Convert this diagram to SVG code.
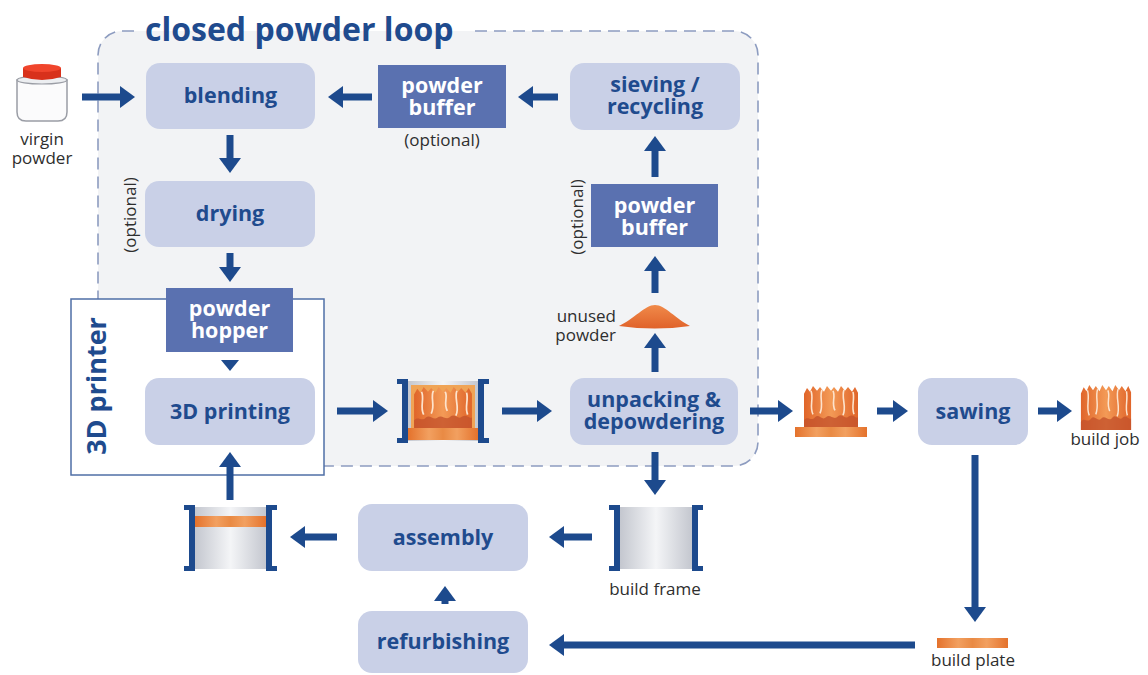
<svg xmlns="http://www.w3.org/2000/svg" width="1148" height="675" viewBox="0 0 1148 675">
  <defs>
    <style>
      .node rect { fill: #c9d0e7; }
      .node text { fill: #1f4b8e; }
      .dark rect { fill: #5a71b0; }
      .dark text { fill: #ffffff; }
      .node text, .dark text { font-family: "Open Sans", "Liberation Sans", sans-serif; font-weight: 700; font-size: 21.5px; text-anchor: middle; }
      .lbl { font-family: "Open Sans", "Liberation Sans", sans-serif; font-size: 17px; fill: #2e2e2e; }
      .title { font-family: "Open Sans", "Liberation Sans", sans-serif; font-weight: 700; fill: #1f4b8e; }
      .arr { stroke: #1d4a8d; stroke-width: 7; fill: none; marker-end: url(#ah); }
      .brk { fill: #1d4a8d; }
      .loopline { fill: none; stroke: #8d9cc0; stroke-width: 1.6; stroke-dasharray: 12 7; }
    </style>
    <marker id="ah" markerUnits="userSpaceOnUse" markerWidth="16" markerHeight="22" refX="1" refY="11" orient="auto" viewBox="0 0 16 22">
      <path d="M0,0 L15,11 L0,22 Z" fill="#1d4a8d"/>
    </marker>
    <linearGradient id="cyl" x1="0" y1="0" x2="1" y2="0">
      <stop offset="0" stop-color="#c4c7cf"/>
      <stop offset="0.5" stop-color="#f4f5f7"/>
      <stop offset="1" stop-color="#c4c7cf"/>
    </linearGradient>
    <linearGradient id="org" x1="0" y1="0" x2="1" y2="0">
      <stop offset="0" stop-color="#e0652a"/>
      <stop offset="0.5" stop-color="#f39a56"/>
      <stop offset="1" stop-color="#e0652a"/>
    </linearGradient>
    <linearGradient id="plate" x1="0" y1="0" x2="1" y2="0">
      <stop offset="0" stop-color="#e4722c"/>
      <stop offset="0.3" stop-color="#f2a060"/>
      <stop offset="0.5" stop-color="#e98a44"/>
      <stop offset="0.7" stop-color="#f2a060"/>
      <stop offset="1" stop-color="#e4722c"/>
    </linearGradient>
    <linearGradient id="pile" x1="0" y1="0" x2="0" y2="1">
      <stop offset="0" stop-color="#f08a4a"/>
      <stop offset="1" stop-color="#e0622a"/>
    </linearGradient>
    <!-- printed parts on the build plate -->
    <symbol id="parts" viewBox="0 0 56 44" preserveAspectRatio="none">
      <path d="M1,44 V9 L4,3 L7,7 L10,1 L14,6 L17,2 L21,7 L24,1 L28,6 L31,2 L35,7 L38,1 L42,6 L45,2 L49,7 L52,2 L55,8 V44 Z" fill="url(#org)"/>
      <path d="M8,6 C11,14 6,22 10,30 M19,5 C16,13 21,20 17,29 M30,6 C33,12 28,18 32,26 M41,5 C38,13 44,22 40,31 M50,7 C52,15 48,22 51,30" stroke="#fde3cc" stroke-width="1.6" fill="none"/>
      <path d="M1,44 V36 C5,31 8,38 12,33 C16,29 19,37 23,33 C27,29 31,37 35,32 C39,28 42,36 46,32 C50,29 53,35 55,33 V44 Z" fill="#c4532c" opacity="0.8"/>
    </symbol>
  </defs>

  <rect width="1148" height="675" fill="#ffffff"/>

  <!-- closed powder loop area -->
  <g id="loop">
    <rect x="98" y="31" width="660" height="435" rx="24" fill="#f2f3f5"/>
    <path class="loopline" d="M475,31 H734 A24,24 0 0 1 758,55 V442 A24,24 0 0 1 734,466 H324"/>
    <path class="loopline" d="M134,31 H122 A24,24 0 0 0 98,55 V299"/>
    <text class="title" x="145" y="41" font-size="32">closed powder loop</text>
  </g>

  <!-- 3D printer housing -->
  <g id="printer">
    <rect x="71" y="299" width="253" height="176" fill="#ffffff" stroke="#4f6fa6" stroke-width="1.5"/>
    <text class="title" font-size="27" transform="translate(106,386) rotate(-90)" text-anchor="middle">3D printer</text>
  </g>

  <!-- process steps -->
  <g id="blending" class="node">
    <rect x="146" y="63" width="169" height="66" rx="14"/>
    <text x="230.5" y="103">blending</text>
  </g>
  <g id="powder-buffer-top" class="dark">
    <rect x="378" y="65" width="128" height="63"/>
    <text x="442" y="93">powder<tspan x="442" dy="22">buffer</tspan></text>
  </g>
  <g id="sieving" class="node">
    <rect x="570" y="63" width="170" height="67" rx="14"/>
    <text x="655" y="92">sieving /<tspan x="655" dy="22">recycling</tspan></text>
  </g>
  <g id="drying" class="node">
    <rect x="145" y="181" width="170" height="66" rx="14"/>
    <text x="230" y="221">drying</text>
  </g>
  <g id="powder-hopper" class="dark">
    <rect x="166" y="288" width="127" height="64"/>
    <text x="229.5" y="316">powder<tspan x="229.5" dy="22">hopper</tspan></text>
  </g>
  <g id="printing" class="node">
    <rect x="145" y="378" width="170" height="67" rx="14"/>
    <text x="230" y="419">3D printing</text>
  </g>
  <g id="powder-buffer-right" class="dark">
    <rect x="591" y="184" width="127" height="63"/>
    <text x="654.5" y="213">powder<tspan x="654.5" dy="22">buffer</tspan></text>
  </g>
  <g id="unpacking" class="node">
    <rect x="570" y="378" width="168" height="67" rx="14"/>
    <text x="654" y="407">unpacking &amp;<tspan x="654" dy="22">depowdering</tspan></text>
  </g>
  <g id="sawing" class="node">
    <rect x="918" y="378" width="110" height="67" rx="14"/>
    <text x="973" y="419">sawing</text>
  </g>
  <g id="assembly" class="node">
    <rect x="358" y="504" width="170" height="67" rx="14"/>
    <text x="443" y="545">assembly</text>
  </g>
  <g id="refurbishing" class="node">
    <rect x="358" y="611" width="170" height="62" rx="14"/>
    <text x="443" y="649">refurbishing</text>
  </g>

  <!-- optional notes -->
  <g id="notes">
    <text class="lbl" x="442" y="146" text-anchor="middle">(optional)</text>
    <text class="lbl" transform="translate(136,215) rotate(-90)" text-anchor="middle">(optional)</text>
    <text class="lbl" transform="translate(583,217) rotate(-90)" text-anchor="middle">(optional)</text>
  </g>

  <!-- virgin powder jar -->
  <g id="virgin-powder">
    <path d="M17,80 V112 Q17,121 26,121 H58 Q67,121 67,112 V80 Z" fill="#fbfbfc" stroke="#9a9da5" stroke-width="1.5"/>
    <ellipse cx="42" cy="80" rx="25" ry="4" fill="#eceef1" stroke="#9a9da5" stroke-width="1.2"/>
    <path d="M23,68 V77 Q42,83 61,77 V68 Z" fill="#d8311b"/>
    <ellipse cx="42" cy="68" rx="19" ry="4" fill="#f0452c"/>
    <text class="lbl" x="42" y="145" text-anchor="middle">virgin<tspan x="42" dy="19">powder</tspan></text>
  </g>

  <!-- build frame with finished build job -->
  <g id="full-frame">
    <rect x="408" y="381" width="70" height="60" fill="url(#cyl)"/>
    <rect x="411" y="385" width="64" height="44" fill="#f0a456"/>
    <use href="#parts" x="413" y="386" width="60" height="42"/>
    <rect x="408" y="428" width="70" height="12" fill="url(#plate)"/>
    <path class="brk" d="M397,379 H408 V443 H397 V438 H402 V384 H397 Z"/>
    <path class="brk" d="M489,379 H478 V443 H489 V438 H484 V384 H489 Z"/>
  </g>

  <!-- unused powder pile -->
  <g id="unused-powder">
    <path d="M619,326 C634,319 645,305 655,305 C665,305 676,319 690,326 Q655,331 619,326 Z" fill="url(#pile)"/>
    <text class="lbl" x="616" y="322" text-anchor="end">unused<tspan x="616" dy="19">powder</tspan></text>
  </g>

  <!-- build job on build plate -->
  <g id="job-on-plate">
    <use href="#parts" x="803" y="385" width="56" height="43"/>
    <rect x="795" y="427" width="72" height="10" fill="url(#plate)"/>
  </g>

  <!-- separated build job -->
  <g id="build-job">
    <use href="#parts" x="1080" y="384" width="52" height="46"/>
    <text class="lbl" x="1105" y="445" text-anchor="middle">build job</text>
  </g>

  <!-- empty build frame -->
  <g id="build-frame">
    <rect x="620" y="507" width="72" height="62" fill="url(#cyl)"/>
    <path class="brk" d="M609,505 H620 V571 H609 V566 H614 V510 H609 Z"/>
    <path class="brk" d="M703,505 H692 V571 H703 V566 H698 V510 H703 Z"/>
    <text class="lbl" x="655" y="595" text-anchor="middle">build frame</text>
  </g>

  <!-- assembled frame with new plate -->
  <g id="assembled-frame">
    <rect x="195" y="507" width="71" height="62" fill="url(#cyl)"/>
    <rect x="195" y="516" width="71" height="11" fill="url(#plate)"/>
    <path class="brk" d="M184,505 H195 V571 H184 V566 H189 V510 H184 Z"/>
    <path class="brk" d="M277,505 H266 V571 H277 V566 H272 V510 H277 Z"/>
  </g>

  <!-- build plate -->
  <g id="build-plate">
    <rect x="937" y="638" width="71" height="10" fill="url(#plate)"/>
    <text class="lbl" x="973" y="666" text-anchor="middle">build plate</text>
  </g>

  <!-- connectors -->
  <g id="connectors">
    <line class="arr" x1="82" y1="97" x2="121" y2="97"/>
    <line class="arr" x1="372" y1="97" x2="342" y2="97"/>
    <line class="arr" x1="558" y1="97" x2="532" y2="97"/>
    <line class="arr" x1="230" y1="135" x2="230" y2="159"/>
    <line class="arr" x1="230" y1="253" x2="230" y2="268"/>
    <polygon points="221,360 239,360 230,371" fill="#1d4a8d"/>
    <line class="arr" x1="230" y1="500" x2="230" y2="466"/>
    <line class="arr" x1="337" y1="411" x2="374" y2="411"/>
    <line class="arr" x1="502" y1="411" x2="538" y2="411"/>
    <line class="arr" x1="655" y1="372" x2="655" y2="347"/>
    <line class="arr" x1="655" y1="293" x2="655" y2="270"/>
    <line class="arr" x1="655" y1="177" x2="655" y2="150"/>
    <line class="arr" x1="750" y1="411" x2="779" y2="411"/>
    <line class="arr" x1="877" y1="411" x2="894" y2="411"/>
    <line class="arr" x1="1038" y1="411" x2="1058" y2="411"/>
    <line class="arr" x1="655" y1="452" x2="655" y2="481"/>
    <line class="arr" x1="592" y1="537" x2="563" y2="537"/>
    <line class="arr" x1="337" y1="537" x2="304" y2="537"/>
    <line class="arr" x1="445" y1="604" x2="445" y2="600"/>
    <line class="arr" x1="975" y1="455" x2="975" y2="608"/>
    <line class="arr" x1="915" y1="645" x2="563" y2="645"/>
  </g>
</svg>
